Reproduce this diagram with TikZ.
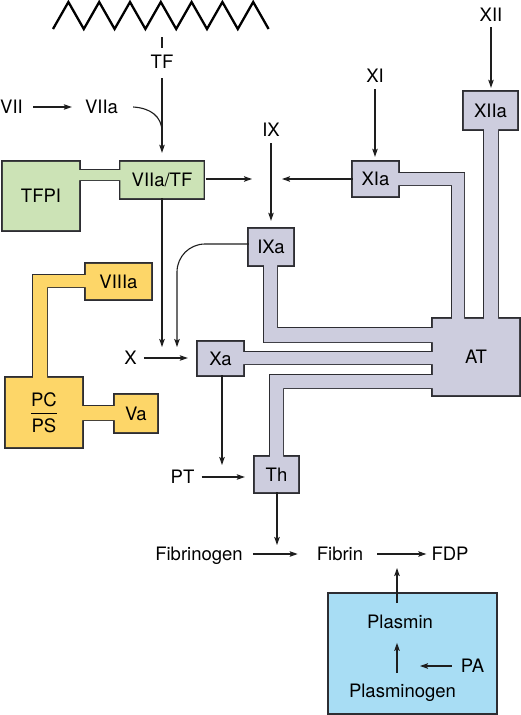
\documentclass[tikz,border=0pt]{standalone}
\usepackage{amsmath}
\usepackage{fontspec}
\setmainfont{TeX Gyre Heros}
\usetikzlibrary{arrows.meta, calc}

\definecolor{edge}{RGB}{45,45,50}
\definecolor{ink}{RGB}{30,30,30}
\definecolor{tfgreen}{RGB}{204,227,182}
\definecolor{atgray}{RGB}{205,205,222}
\definecolor{pcyellow}{RGB}{253,214,104}
\definecolor{lysblue}{RGB}{168,221,244}

\pgfdeclarelayer{back}
\pgfsetlayers{back,main}

\tikzset{
  lbl/.style={inner sep=0pt, text height=13.3pt, text depth=0pt},
  box/.style 2 args={lbl, minimum width=#1, minimum height=#2},
  flow/.style={draw=ink, line width=1.1pt, -{Stealth[length=8pt,width=5.5pt,inset=1.5pt]}},
  wire/.style={draw=ink, line width=1.1pt},
}

% outlines of the joined boxes (drawn twice: stroke, then fill)
\newcommand{\greenparts}[1]{\path[#1] (tfpi.north west) rectangle (tfpi.south east)
  (77,170) rectangle (123,180) (vtf.north west) rectangle (vtf.south east);}
\newcommand{\yellowparts}[1]{\path[#1] (viiia.north west) rectangle (viiia.south east)
  (33,275) rectangle (88,287) (33,275) rectangle (47,380)
  (pcps.north west) rectangle (pcps.south east)
  (80,406) rectangle (117,420) (va.north west) rectangle (va.south east);}
\newcommand{\grayparts}[1]{\path[#1] (xiia.north west) rectangle (xiia.south east)
  (484,127) rectangle (498,322)
  (xia.north west) rectangle (xia.south east)
  (396,173) rectangle (464,185) (452,173) rectangle (464,322)
  (ixa.north west) rectangle (ixa.south east)
  (264,263) rectangle (277,342) (264,328) rectangle (436,342)
  (xa.north west) rectangle (xa.south east)
  (241,352) rectangle (436,364)
  (270,375) rectangle (436,388) (270,375) rectangle (283,459)
  (th.north west) rectangle (th.south east)
  (atb.north west) rectangle (atb.south east);}

\begin{document}
\begin{tikzpicture}[x=1pt, y=-1pt, font=\fontsize{18.5}{22}\selectfont]
  \useasboundingbox (0,0) rectangle (521,715);

  % membrane
  \draw[line width=2.3pt, black, line join=miter] (53,29)
    \foreach \k in {1,...,7} { -- ++(15.4,-27) -- ++(15.4,27) };

  % boxes
  \node (tfpi) [box={76pt}{68pt}] at (41,196) {TFPI};
  \node (vtf) [box={83pt}{36pt}] at (162,180) {VIIa/TF};
  \node (xiia) [box={53pt}{37pt}] at (490.5,110.5) {XIIa};
  \node (xia) [box={45pt}{34pt}] at (375.5,179) {XIa};
  \node (ixa) [box={44pt}{36pt}] at (271,247) {IXa};
  \node (xa) [box={45pt}{33pt}] at (220.5,358.5) {Xa};
  \node (th) [box={43pt}{35pt}] at (276.5,474.5) {Th};
  \node (atb) [box={86pt}{76pt}] at (476,357) {AT};
  \node (viiia) [box={65pt}{35pt}] at (118.5,281.5) {VIIIa};
  \node (pcps) [inner sep=0pt, minimum width=76pt, minimum height=69pt] at (44,412.5)
    {$\genfrac{}{}{1.3pt}{0}{\text{PC}}{\text{PS}}$};
  \node (va) [box={42pt}{37pt}] at (136,413.5) {Va};
  \node (lysis) [draw=edge, line width=1.4pt, fill=lysblue, inner sep=0pt,
    minimum width=169pt, minimum height=121pt] at (412.5,653.5) {};

  \begin{pgfonlayer}{back}
    \greenparts{draw=edge, line width=2.8pt, fill=tfgreen}
    \greenparts{fill=tfgreen}
    \yellowparts{draw=edge, line width=2.8pt, fill=pcyellow}
    \yellowparts{fill=pcyellow}
    \grayparts{draw=edge, line width=2.8pt, fill=atgray}
    \grayparts{fill=atgray}
  \end{pgfonlayer}

  % factors
  \node (tf) [lbl] at (162,62) {TF};
  \node (vii) [lbl] at (11.5,107) {VII};
  \node (viia) [lbl] at (101.5,107) {VIIa};
  \node (ix) [lbl] at (271,130) {IX};
  \node (xi) [lbl] at (375,76) {XI};
  \node (xii) [lbl] at (491,15) {XII};
  \node (fx) [lbl] at (130.5,358) {X};
  \node (prot) [lbl] at (182.5,477) {PT};
  \node (fbg) [lbl] at (199,554) {Fibrinogen};
  \node (fbn) [lbl] at (340,554) {Fibrin};
  \node (fdp) [lbl] at (450,554) {FDP};
  \node (pls) [lbl] at (400,622) {Plasmin};
  \node (pa) [lbl] at (472.5,666) {PA};
  \node (plg) [lbl] at (402.5,691) {Plasminogen};

  \coordinate (tfmerge) at (162,132);
  \coordinate (ixmid) at (271,179);
  \coordinate (xmid1) at (162,358);
  \coordinate (xmid2) at (177,358);
  \coordinate (ptmid) at (222,477);
  \coordinate (fibmid) at (277,554);
  \coordinate (fdpmid) at (397,554);
  \coordinate (plgmid) at (397,666);

  % extrinsic side
  \draw[wire] ([yshift=7.5pt]tf.north) -- ++(0,-11);
  \draw[flow, shorten <=9.5pt, shorten >=9pt] (tf) -- (vtf);
  \draw[flow, shorten <=10pt, shorten >=13pt] (vii) -- (viia);
  \draw[wire] ([xshift=15pt]viia.east) .. controls (150,108) and (162,116) .. (tfmerge);
  \draw[flow, shorten <=2pt, shorten >=19pt] (vtf.east |- ixmid) -- (ixmid);
  \draw[flow, shorten >=11pt] (vtf.south) -- (xmid1);

  % intrinsic side
  \draw[flow, shorten <=5.5pt, shorten >=4pt] (xii) -- (xii |- xiia.north);
  \draw[flow, shorten <=6.5pt, shorten >=5pt] (xi) -- (xi |- xia.north);
  \draw[flow, shorten >=11pt] (xia.west |- ixmid) -- (ixmid);
  \draw[flow, shorten <=6.5pt, shorten >=8pt] (ix) -- (ixa);
  \draw[flow, rounded corners=28pt, shorten >=11pt] ([yshift=3pt]ixa.west) -| (xmid2);

  % common path
  \draw[flow, shorten <=7pt, shorten >=10pt] (fx) -- (fx -| xa.west);
  \draw[flow, shorten >=12pt] (xa.south -| ptmid) -- (ptmid);
  \draw[flow, shorten <=7pt, shorten >=10pt] (prot) -- (prot -| th.west);
  \draw[flow, shorten >=9pt] (th.south -| fibmid) -- (fibmid);
  \draw[flow, shorten <=10pt, shorten >=19pt] (fbg) -- (fbn);
  \draw[flow, shorten <=14pt, shorten >=5pt] (fbn) -- (fdp);

  % fibrinolysis
  \draw[flow, shorten <=12pt, shorten >=14pt] (pls.north -| fdpmid) -- (fdpmid);
  \draw[flow, shorten <=11pt, shorten >=14pt] (plg.north -| fdpmid) -- (pls.south -| fdpmid);
  \draw[flow, shorten <=9pt, shorten >=23pt] (pa) -- (plgmid);
\end{tikzpicture}
\end{document}
